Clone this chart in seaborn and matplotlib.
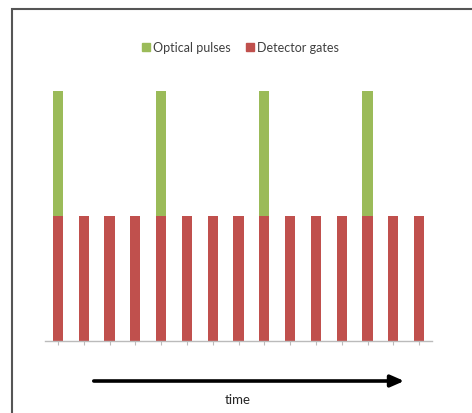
import numpy as np
import pandas as pd
import matplotlib
matplotlib.use('Agg')
import matplotlib.pyplot as plt
import matplotlib.patches as mpatches
import seaborn as sns

# Dados do gráfico
slots = list(range(15))
detector_gates = [1] * 15
optical_pulses = [1, 0, 0, 0, 1, 0, 0, 0, 1, 0, 0, 0, 1, 0, 0]

verde = '#9BBB59'
vermelho = '#C0504D'

sns.set_style('white')
plt.rcParams['font.family'] = ['Lato', 'DejaVu Sans']

df = pd.DataFrame({'slot': slots,
                   'gates': detector_gates,
                   'pulses': optical_pulses})
df['total'] = df['gates'] + df['pulses']

fig = plt.figure(figsize=(4.72, 4.14), dpi=100)
ax = fig.add_axes([45 / 472, 72 / 414, 387 / 472, 275 / 414])

# Empilhado: primeiro o total (verde), depois os gates por cima
sns.barplot(data=df, x='slot', y='total', color=verde, width=0.4,
            saturation=1, linewidth=0, ax=ax)
sns.barplot(data=df, x='slot', y='gates', color=vermelho, width=0.4,
            saturation=1, linewidth=0, ax=ax)

ax.set_ylim(0, 2.2)
ax.set_xlim(-0.5, 14.5)
ax.set_xlabel('')
ax.set_ylabel('')
ax.set_yticks([])
ax.set_xticklabels([])
ax.tick_params(axis='x', bottom=True, length=3, color='#bbbbbb', width=0.8)
for s in ['top', 'right', 'left']:
    ax.spines[s].set_visible(False)
ax.spines['bottom'].set_color('#bbbbbb')
ax.spines['bottom'].set_linewidth(1)

# Legenda
handles = [mpatches.Patch(color=verde, label='Optical pulses'),
           mpatches.Patch(color=vermelho, label='Detector gates')]
leg = fig.legend(handles=handles, loc='center', bbox_to_anchor=(0.51, 1 - 48 / 414),
                 ncol=2, frameon=False, fontsize=9, handlelength=0.6,
                 handleheight=0.6, handletextpad=0.3, columnspacing=1.2)
for t in leg.get_texts():
    t.set_color('#404040')

# Seta do tempo
ax.annotate('', xy=(407, 32), xytext=(91, 32), xycoords='figure pixels',
            textcoords='figure pixels',
            arrowprops=dict(arrowstyle='-|>,head_length=0.8,head_width=0.35',
                            color='black', lw=2.6))
fig.text(238 / 472, 14 / 414, 'time', ha='center', va='center', fontsize=9.5,
         color='#262626')

# Moldura
fig.patches.append(mpatches.Rectangle((11.5 / 472, -0.1), 1.2,
                                      (414 - 9.5) / 414 + 0.1,
                                      transform=fig.transFigure, fill=False,
                                      edgecolor='#555555', lw=1.5))

fig.savefig('out.png', dpi=100)
